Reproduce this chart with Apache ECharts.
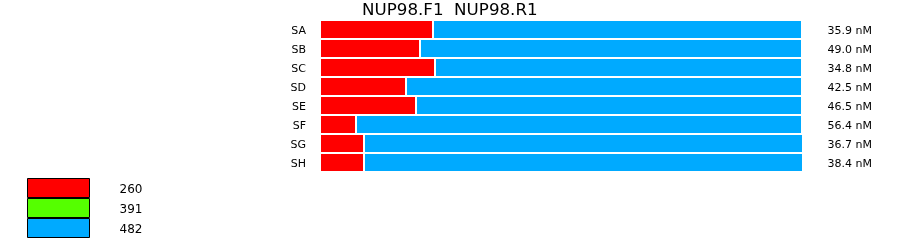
<!DOCTYPE html>
<html>
<head>
<meta charset="utf-8">
<script src="https://cdn.jsdelivr.net/npm/echarts@6/dist/echarts.min.js"></script>
<style>
html,body{margin:0;padding:0;background:#fff;}
#c{width:900px;height:242px;}
</style>
</head>
<body>
<div id="c"></div>
<script>
var categories = ['SA','SB','SC','SD','SE','SF','SG','SH'];
var concLabels = ['35.9 nM','49.0 nM','34.8 nM','42.5 nM','46.5 nM','56.4 nM','36.7 nM','38.4 nM'];
var red260 = [111, 98, 113, 84, 94, 34, 42, 42];
var green391 = [0, 0, 0, 0, 0, 0, 0, 0];
var blue482 = [367, 380, 365, 394, 384, 444, 437, 437];
var legendNames = ['260', '391', '482'];
var colors = ['#ff0000', '#55ff00', '#00aaff'];
var GAP = 2;

var font = 'DejaVu Sans';
var chart = echarts.init(document.getElementById('c'), null, {renderer: 'canvas'});
var gapData = red260.map(function(){ return GAP; });

chart.setOption({
  animation: false,
  backgroundColor: '#ffffff',
  title: {
    text: 'NUP98.F1  NUP98.R1',
    left: 362,
    top: 1,
    padding: 0,
    textStyle: {fontFamily: font, fontSize: 16.7, fontWeight: 'normal', color: '#000', lineHeight: 20}
  },
  legend: {
    orient: 'vertical',
    left: 27,
    top: 178,
    padding: 0,
    itemWidth: 62,
    itemHeight: 19,
    itemGap: 0,
    icon: 'rect',
    selectedMode: false,
    data: legendNames,
    itemStyle: {borderColor: '#000', borderWidth: 1},
    formatter: function (name) { return '{t|' + name + '}'; },
    textStyle: {
      fontFamily: font, fontSize: 12, color: '#000', padding: [0, 0, 0, 25],
      rich: {t: {fontFamily: font, fontSize: 12, color: '#000', lineHeight: 12, padding: [3, 0, 0, 0]}}
    }
  },
  grid: {left: 321, top: 20, width: 481, height: 152, containLabel: false},
  xAxis: {
    type: 'value', min: 0, max: 481, show: false
  },
  yAxis: [{
    type: 'category',
    data: categories,
    inverse: true,
    axisLine: {show: false},
    axisTick: {show: false},
    axisLabel: {fontFamily: font, fontSize: 11, color: '#000', margin: 15, verticalAlign: 'top', lineHeight: 4}
  }, {
    type: 'category',
    data: concLabels,
    inverse: true,
    position: 'right',
    axisLine: {show: false},
    axisTick: {show: false},
    axisLabel: {fontFamily: font, fontSize: 11, color: '#000', margin: 70, align: 'right', verticalAlign: 'top', lineHeight: 4}
  }],
  series: [{
    name: legendNames[0], type: 'bar', stack: 's', data: red260,
    barWidth: 17, itemStyle: {color: colors[0]}
  }, {
    name: '_gap', type: 'bar', stack: 's', data: gapData,
    barWidth: 17, itemStyle: {color: 'rgba(0,0,0,0)'}, silent: true
  }, {
    name: legendNames[1], type: 'bar', stack: 's', data: green391,
    barWidth: 17, itemStyle: {color: colors[1]}
  }, {
    name: legendNames[2], type: 'bar', stack: 's', data: blue482,
    barWidth: 17, itemStyle: {color: colors[2]}
  }]
});
</script>
</body>
</html>
